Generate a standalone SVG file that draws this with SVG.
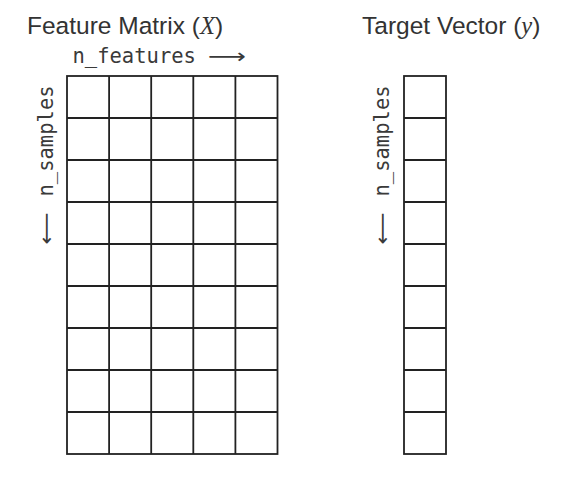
<svg xmlns="http://www.w3.org/2000/svg" width="563" height="478" viewBox="0 0 563 478">
<style>
.title{font-family:"Liberation Sans",Arial,sans-serif;font-size:24.5px;fill:#333}
.math{font-family:"Liberation Serif","Times New Roman",serif;font-style:italic}
.mono{font-family:"DejaVu Sans Mono",monospace;font-size:20.5px;fill:#3a3a3a}
.arr{font-family:"DejaVu Sans",sans-serif;font-size:20.5px;fill:#3a3a3a}
.grid{fill:none;stroke:#222;stroke-width:1.8}
</style>
<rect width="563" height="478" fill="#fff"/>
<g id="matrix">
<text class="title" x="27" y="34">Feature Matrix (<tspan class="math">X</tspan>)</text>
<text class="mono" x="72.5" y="63">n_features</text>
<text class="arr" x="208" y="63" textLength="38" lengthAdjust="spacingAndGlyphs">⟶</text>
<text class="mono" x="53" y="196.5" transform="rotate(-90 53 196.5)">n_samples</text>
<text class="arr" x="53" y="244.5" transform="rotate(-90 53 244.5)" textLength="32" lengthAdjust="spacingAndGlyphs">⟵</text>
<g class="grid">
<rect x="67" y="76" width="210.5" height="378"/>
<path d="M109.1 76V454M151.2 76V454M193.3 76V454M235.4 76V454M67 118H277.5M67 160H277.5M67 202H277.5M67 244H277.5M67 286H277.5M67 328H277.5M67 370H277.5M67 412H277.5"/>
</g>
</g>
<g id="vector">
<text class="title" x="362" y="34">Target Vector (<tspan class="math">y</tspan>)</text>
<text class="mono" x="389" y="196.5" transform="rotate(-90 389 196.5)">n_samples</text>
<text class="arr" x="389" y="244.5" transform="rotate(-90 389 244.5)" textLength="32" lengthAdjust="spacingAndGlyphs">⟵</text>
<g class="grid">
<rect x="404" y="76" width="42" height="378"/>
<path d="M404 118H446M404 160H446M404 202H446M404 244H446M404 286H446M404 328H446M404 370H446M404 412H446"/>
</g>
</g>
</svg>
